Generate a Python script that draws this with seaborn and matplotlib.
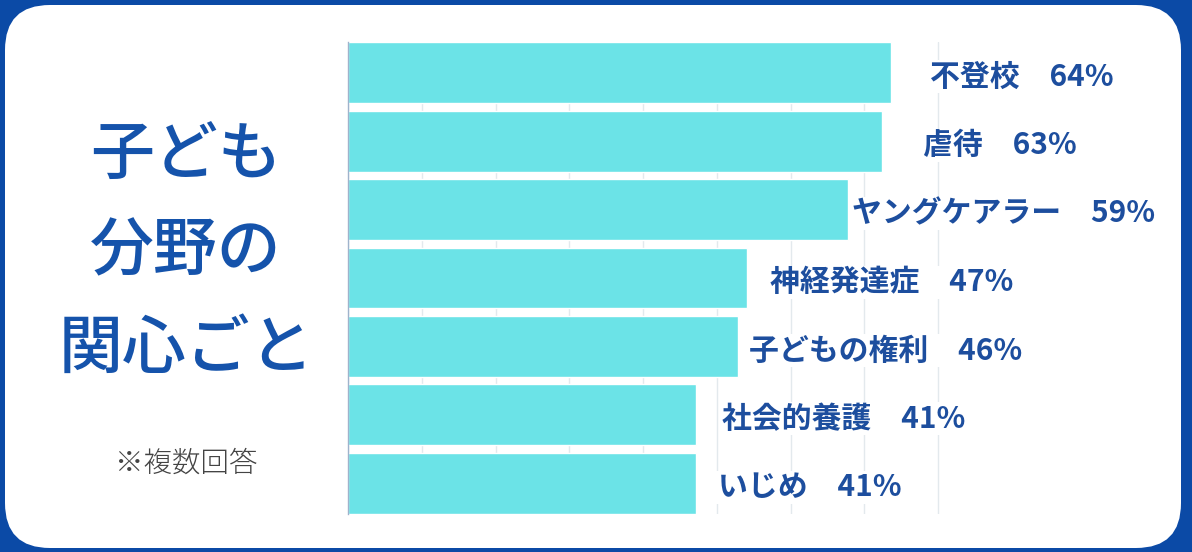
import matplotlib
matplotlib.use("Agg")
import matplotlib.pyplot as plt
from matplotlib.patches import FancyBboxPatch
from matplotlib.ticker import MultipleLocator
import seaborn as sns
import pandas as pd

# ---- data ----
categories = ["不登校", "虐待", "ヤングケアラー", "神経発達症", "子どもの権利", "社会的養護", "いじめ"]
values = [64, 63, 59, 47, 46, 41, 41]
title_lines = ["子ども", "分野の", "関心ごと"]
note = "※複数回答"

# ---- style ----
label_gaps_px = [39, 41, 4, 23, 11, 26, 22]
BLUE_FRAME = "#0b4aa6"
BAR_COLOR = "#6be3e7"
LABEL_COLOR = "#1d4e9e"
TITLE_COLOR = "#1553ab"

sns.set_theme(style="white")
plt.rcParams["font.family"] = ["Noto Sans CJK JP", "DejaVu Sans"]

W, H = 1192, 552
fig = plt.figure(figsize=(W / 100, H / 100), dpi=100)
fig.patch.set_facecolor(BLUE_FRAME)

# background panel in pixel coordinates
bg = fig.add_axes([0, 0, 1, 1], zorder=0)
bg.set_xlim(0, W)
bg.set_ylim(H, 0)
bg.axis("off")
bg.add_patch(FancyBboxPatch((5, 5), 1176, 543,
                            boxstyle="round,pad=0,rounding_size=45",
                            fc="white", ec="none"))
title_y = [156, 252, 349]
for line, y in zip(title_lines, title_y):
    bg.text(186, y, line, ha="center", va="center", fontsize=46,
            fontweight="medium", color=TITLE_COLOR)
bg.text(186, 463, note, ha="center", va="center", fontsize=20.5,
        fontweight="light", color="#444444")

# bar chart axes
left_px, right_px, top_px, bot_px = 348, 980, 42, 514
ax = fig.add_axes([left_px / W, 1 - bot_px / H,
                   (right_px - left_px) / W, (bot_px - top_px) / H], zorder=1)
ax.set_facecolor("none")

df = pd.DataFrame({"category": categories, "value": values})
sns.barplot(data=df, x="value", y="category", color=BAR_COLOR, width=0.89,
            saturation=1, ax=ax, zorder=2)

px_per_unit = 8.48
ax.set_xlim(0, (right_px - left_px) / px_per_unit)
ax.set_ylim(len(categories) - 1 + 0.45, -0.45)
ax.xaxis.set_major_locator(MultipleLocator(8.7))
ax.grid(axis="x", color="#e3e9ed", linewidth=1, zorder=0)
ax.set_axisbelow(True)
ax.set_xticklabels([])
ax.set_yticklabels([])
ax.set_xlabel("")
ax.set_ylabel("")
ax.tick_params(left=False, bottom=False)
for s in ["top", "right", "bottom"]:
    ax.spines[s].set_visible(False)
ax.spines["left"].set_color("#9fb3cc")
ax.spines["left"].set_linewidth(1)
ax.spines["left"].set_zorder(3)

for i, (cat, val, gap) in enumerate(zip(categories, values, label_gaps_px)):
    ax.annotate(f"{cat}　{val}%", xy=(val, i), xytext=(gap * 0.72, -3),
                textcoords="offset points", ha="left", va="center",
                fontsize=21.5, fontweight="bold", color=LABEL_COLOR,
                bbox=dict(boxstyle="square,pad=0.05", fc="white", ec="none"),
                zorder=4, annotation_clip=False)

fig.savefig("out.png", dpi=100, facecolor=fig.get_facecolor())
